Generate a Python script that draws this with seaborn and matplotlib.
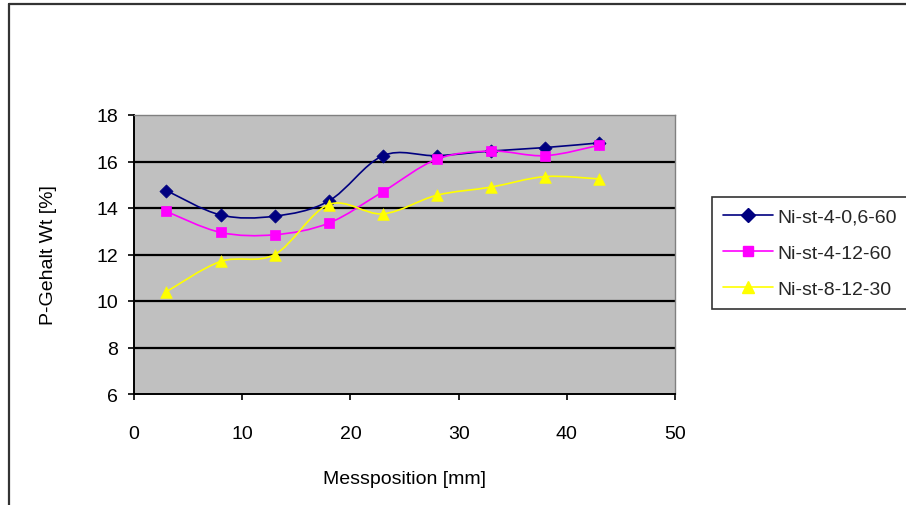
import numpy as np
import pandas as pd
import matplotlib
matplotlib.use("Agg")
import matplotlib.pyplot as plt
import seaborn as sns
from matplotlib.path import Path
from matplotlib.patches import PathPatch
from matplotlib.lines import Line2D

# ---- data ----
positions = [3, 8, 13, 18, 23, 28, 33, 38, 43]
series_names = ["Ni-st-4-0,6-60", "Ni-st-4-12-60", "Ni-st-8-12-30"]
ni_st_4_06_60 = [14.75, 13.70, 13.65, 14.30, 16.25, 16.25, 16.45, 16.60, 16.80]
ni_st_4_12_60 = [13.85, 12.95, 12.85, 13.35, 14.70, 16.10, 16.45, 16.25, 16.70]
ni_st_8_12_30 = [10.40, 11.70, 12.00, 14.15, 13.75, 14.55, 14.90, 15.35, 15.25]
x_ticks = [0, 10, 20, 30, 40, 50]
y_ticks = [6, 8, 10, 12, 14, 16, 18]

values = [ni_st_4_06_60, ni_st_4_12_60, ni_st_8_12_30]
df = pd.DataFrame({
    "Messposition": positions * 3,
    "P": ni_st_4_06_60 + ni_st_4_12_60 + ni_st_8_12_30,
    "Serie": sum([[n] * len(positions) for n in series_names], []),
})

colors = {series_names[0]: "#000080", series_names[1]: "#ff00ff", series_names[2]: "#ffff00"}
markers = {series_names[0]: "D", series_names[1]: "s", series_names[2]: "^"}
msizes = {series_names[0]: 45, series_names[1]: 50, series_names[2]: 70}

sns.set_theme(style="white")
plt.rcParams["font.family"] = ["Liberation Sans", "DejaVu Sans"]
FS = 14

fig = plt.figure(figsize=(9.06, 5.06), dpi=100)
W, H = 906, 506
ax = fig.add_axes([134 / W, 1 - 395 / H, (675 - 134) / W, (395 - 116) / H])
ax.set_facecolor("#c0c0c0")

def smooth_path(xs, ys):
    pts = np.column_stack([xs, ys]).astype(float)
    n = len(pts)
    verts = [pts[0]]
    codes = [Path.MOVETO]
    for i in range(n - 1):
        p0 = pts[i - 1] if i > 0 else pts[i]
        p1 = pts[i]
        p2 = pts[i + 1]
        p3 = pts[i + 2] if i + 2 < n else pts[i + 1]
        c1 = p1 + (p2 - p0) / 6.0
        c2 = p2 - (p3 - p1) / 6.0
        verts += [c1, c2, p2]
        codes += [Path.CURVE4] * 3
    return Path(verts, codes)

for i, name in enumerate(series_names):
    patch = PathPatch(smooth_path(positions, values[i]), facecolor="none",
                      edgecolor=colors[name], lw=1.2, zorder=3 + i)
    ax.add_patch(patch)
    sub = df[df["Serie"] == name]
    sns.scatterplot(data=sub, x="Messposition", y="P", marker=markers[name],
                    color=colors[name], s=msizes[name], edgecolor=colors[name],
                    linewidth=0.5, ax=ax, zorder=3.5 + i, legend=False)

ax.set_xlim(0, 50)
ax.set_ylim(6, 18)
ax.set_xticks(x_ticks)
ax.set_yticks(y_ticks)
ax.set_xticklabels([str(t) for t in x_ticks], fontsize=FS)
ax.set_yticklabels([str(t) for t in y_ticks], fontsize=FS)
ax.grid(False)
for t in y_ticks[1:-1]:
    ax.axhline(t, color="black", lw=1.6, zorder=1)

for s in ["top", "right"]:
    ax.spines[s].set_color("#808080")
    ax.spines[s].set_linewidth(1.0)
for s in ["left", "bottom"]:
    ax.spines[s].set_color("black")
    ax.spines[s].set_linewidth(1.4)

ax.tick_params(axis="both", direction="out", length=4.5, width=1.2, color="black",
               labelcolor="black", left=True, bottom=True)
ax.tick_params(axis="x", pad=17.5)
ax.tick_params(axis="y", pad=7)

ax.set_xlabel("Messposition [mm]", fontsize=FS, color="black")
ax.set_ylabel("P-Gehalt Wt [%]", fontsize=FS, color="black")
ax.xaxis.set_label_coords(0.5, -(471 - 395) / 279)
ax.yaxis.set_label_coords(-(134 - 57) / 541, 0.5)

# legend
handles = [Line2D([0], [0], color=colors[n], lw=1.2, marker=markers[n],
                  markersize=7 if n != series_names[2] else 8,
                  markerfacecolor=colors[n], markeredgecolor=colors[n])
           for n in series_names]
leg = fig.legend(handles, series_names, loc="upper left",
                 bbox_to_anchor=(712 / W, 1 - 198 / H), fontsize=FS,
                 frameon=True, fancybox=False, borderpad=0.55, handlelength=2.6,
                 handletextpad=0.2, labelspacing=0.96, borderaxespad=0)
leg.get_frame().set_edgecolor("black")
leg.get_frame().set_linewidth(1.2)
leg.get_frame().set_facecolor("white")

# figure border (left and top visible)
fig.add_artist(Line2D([9 / W, 9 / W], [0, 1 - 5 / H], color="#333333", lw=1.6,
                      transform=fig.transFigure))
fig.add_artist(Line2D([9 / W, 1], [1 - 5 / H, 1 - 5 / H], color="#333333", lw=1.6,
                      transform=fig.transFigure))

fig.savefig("out.png", dpi=100)
